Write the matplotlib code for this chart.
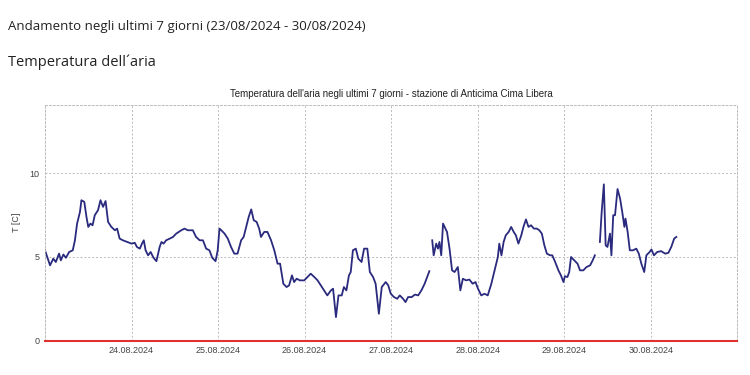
import matplotlib.pyplot as plt
import matplotlib.dates as mdates
import numpy as np
import pandas as pd

# hours since 23.08.2024 00:00, None marks a gap in the record
hours = [0, 1.4, 2.3, 3.0, 3.9, 4.4, 5.1, 5.8, 6.7, 7.7, 8.3, 8.9, 9.7, 10.1, 10.9,
         11.5, 12.0, 12.6, 13.2, 13.8, 14.7, 15.4, 16.1, 16.8, 17.5, 18.4, 19.4, 20.0,
         20.7, 21.6, 22.8, 24.0, 24.9, 25.5, 26.3, 26.9, 27.4, 27.9, 28.6, 29.3, 30.1,
         30.9, 31.8, 32.3, 32.9, 33.6, 34.6, 35.5, 36.4, 37.1, 37.8, 38.7, 39.6, 41.0,
         41.9, 42.9, 43.8, 44.7, 45.6, 46.4, 47.3, 47.9, 48.4, 48.9, 49.8, 50.7, 51.6,
         52.5, 53.4, 54.4, 55.1, 55.8, 56.5, 57.2, 57.9, 58.7, 59.4, 59.9, 60.8, 61.7,
         62.7, 63.6, 64.5, 65.2, 66.1, 67.0, 67.7, 68.5, 69.1, 69.8, 70.7, 71.9, 72.8,
         73.7, 74.7, 75.6, 76.5, 77.4, 78.3, 79.3, 79.9, 80.7, 81.4, 82.3, 82.9, 83.6,
         84.3, 84.8, 85.4, 86.2, 86.9, 87.8, 88.5, 89.4, 90.1, 91.0, 91.7, 92.6, 93.4,
         94.5, 95.2, 95.9, 96.8, 97.7, 98.4, 99.3, 100.0, 100.7, 101.7, 102.6, 103.5,
         104.4, 105.3, 106.0, 106.6, 107.0,
         107.4, 107.8, 108.5, 109.0, 109.4, 109.9, 110.4, 111.5, 112.2, 112.9, 113.6,
         114.5, 115.2, 115.9, 116.8, 117.7, 118.6, 119.4, 120.1, 121.0, 121.9, 122.8,
         123.8, 124.7, 125.6, 126.0, 126.6, 127.2, 127.8, 128.6, 129.3, 130.0, 130.6,
         131.3, 132.1, 132.7, 133.4, 134.1, 134.8, 135.6, 136.4, 137.1, 137.8, 138.5,
         139.2, 140.1, 140.7, 141.5, 142.4, 143.1, 143.8, 144.2, 144.9, 145.4, 145.9,
         146.8, 147.7, 148.4, 149.3, 150.2, 151.2, 151.9, 152.5, 153.2,
         153.9, 154.4, 155.0, 155.5, 156.0, 156.7, 157.1, 157.6, 158.1, 158.8, 159.5,
         160.1, 160.7, 161.0, 161.6, 162.2, 163.1, 164.0, 164.7, 165.4, 166.2, 166.8,
         167.7, 168.2, 168.9, 169.8, 170.9, 172.0, 172.9, 173.7, 174.5, 175.1]

temps = [5.4, 4.5, 4.9, 4.7, 5.2, 4.8, 5.15, 4.95, 5.3, 5.4, 6.0, 7.0, 7.7, 8.4, 8.3,
         7.4, 6.8, 7.0, 6.9, 7.5, 7.8, 8.4, 8.0, 8.35, 7.1, 6.8, 6.6, 6.7,
         6.1, 6.0, 5.9, 5.8, 5.85, 5.6, 5.5, 5.8, 6.0, 5.4, 5.1, 5.3, 4.95,
         4.75, 5.6, 5.9, 5.8, 6.0, 6.1, 6.2, 6.4, 6.5, 6.6, 6.7, 6.6, 6.6,
         6.2, 6.0, 6.0, 5.5, 5.4, 4.95, 4.75, 5.4, 6.7, 6.6, 6.4, 6.1, 5.6,
         5.2, 5.2, 6.0, 6.2, 6.8, 7.4, 7.85, 7.2, 7.1, 6.7, 6.2, 6.5, 6.5,
         6.0, 5.4, 4.6, 4.6, 3.4, 3.2, 3.3, 3.9, 3.5, 3.7, 3.6, 3.6, 3.8,
         4.0, 3.8, 3.6, 3.3, 3.0, 2.7, 3.0, 3.1, 1.4, 2.7, 2.7, 3.2, 3.0,
         3.9, 4.1, 5.4, 5.5, 4.9, 4.7, 5.5, 5.5, 4.1, 3.8, 3.4, 1.6, 3.2,
         3.5, 3.3, 2.8, 2.6, 2.5, 2.7, 2.5, 2.3, 2.6, 2.6, 2.75, 2.7,
         3.0, 3.4, 3.8, 4.15, None,
         6.0, 5.1, 5.8, 5.5, 5.9, 5.1, 7.0, 6.5, 5.5, 4.2, 4.1,
         4.4, 3.0, 3.7, 3.6, 3.65, 3.4, 3.5, 3.1, 2.7, 2.8, 2.7,
         3.4, 4.2, 5.0, 5.8, 5.1, 5.9, 6.3, 6.5, 6.8, 6.5, 6.3,
         5.8, 6.3, 6.8, 7.25, 6.8, 6.9, 6.7, 6.7, 6.6, 6.4, 5.7,
         5.2, 5.1, 5.1, 4.7, 4.2, 3.9, 3.5, 3.85, 3.8, 4.1, 5.0,
         4.8, 4.6, 4.2, 4.2, 4.4, 4.5, 4.8, 5.1, None,
         5.9, 7.7, 9.35, 5.7, 5.6, 6.4, 5.1, 7.5, 7.5, 9.07, 8.5,
         7.7, 6.8, 7.3, 6.5, 5.4, 5.4, 5.5, 5.2, 4.6, 4.1, 5.1,
         5.3, 5.45, 5.1, 5.3, 5.35, 5.2, 5.25, 5.6, 6.1, 6.2]

start = pd.Timestamp('2024-08-23')
end = pd.Timestamp('2024-08-31')
tick_days = pd.date_range('2024-08-24', '2024-08-30', freq='D')

times = start + pd.to_timedelta(hours, unit='h')
vals = np.array([np.nan if v is None else v for v in temps])

fig = plt.figure(figsize=(7.5, 3.75), dpi=100)
ax = fig.add_axes([0.06, 0.092, 0.923, 0.628])

fig.text(0.011, 0.93, 'Andamento negli ultimi 7 giorni (23/08/2024 - 30/08/2024)',
         fontsize=9.5, family='Open Sans', color='#222222', va='center')
fig.text(0.011, 0.835, 'Temperatura dell\u00b4aria', fontsize=10.5,
         family='Open Sans', color='#222222', va='center')

ax.plot(times, vals, color='#2a2a7e', lw=1.3)
ax.axhline(0, color='#e03030', lw=1.5, zorder=3, clip_on=False)

ax.set_xlim(start, end)
ax.set_ylim(0, 14.1)
ax.set_yticks([0, 5, 10])
ax.set_xticks(tick_days)
ax.xaxis.set_major_formatter(mdates.DateFormatter('%d.%m.%Y'))
ax.tick_params(length=0, labelsize=6.5, labelcolor='#444444', pad=4)
for lab in ax.get_xticklabels() + ax.get_yticklabels():
    lab.set_family('Liberation Sans')

ax.grid(True, color='#bbbbbb', ls=(0, (2, 2)), lw=0.7)
for sp in ax.spines.values():
    sp.set_color('#bbbbbb')
    sp.set_linestyle((0, (2, 2)))
    sp.set_linewidth(0.7)

ax.set_title("Temperatura dell'aria negli ultimi 7 giorni - stazione di Anticima Cima Libera",
             fontsize=7, family='Liberation Sans', color='#222222', pad=6, x=0.5)
ax.set_ylabel('T [C]', fontsize=6.5, color='#444444', family='Liberation Sans', labelpad=6)

fig.savefig('out.png', dpi=100)
